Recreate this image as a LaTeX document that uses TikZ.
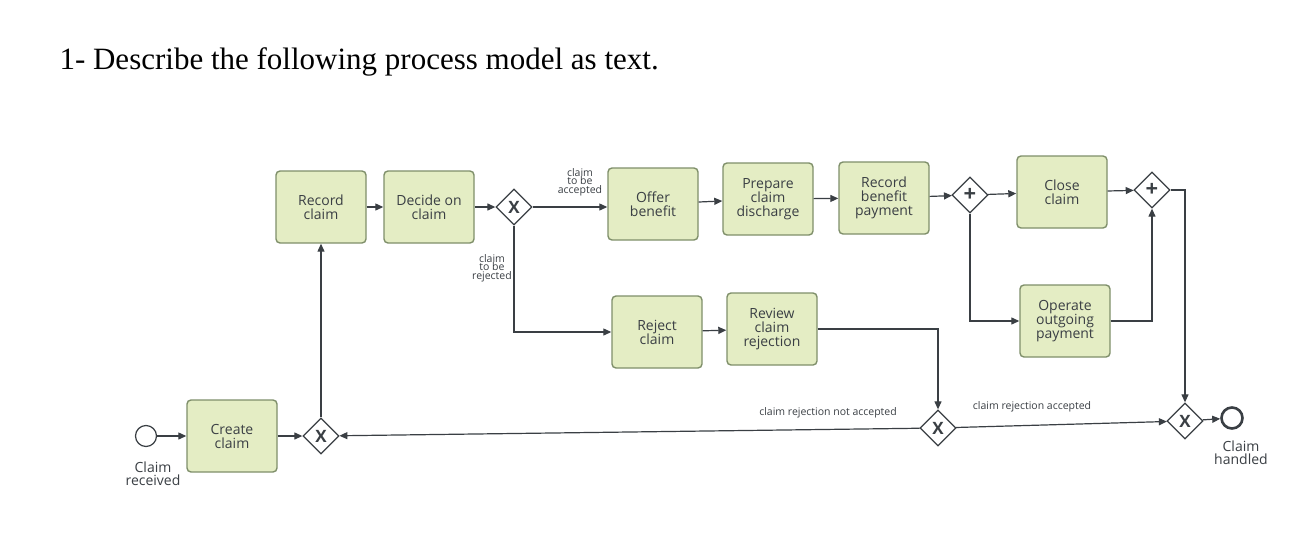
\documentclass[tikz,border=0pt]{standalone}
\usepackage{fontspec}
\setmainfont{Liberation Serif}
\newfontfamily\diag{Open Sans}
\usetikzlibrary{shapes.geometric,arrows.meta}
\definecolor{boxfill}{HTML}{E4EDC4}
\definecolor{boxline}{HTML}{7F8F6A}
\definecolor{ln}{HTML}{3A3F44}
\tikzset{
 task/.style={draw=boxline,fill=boxfill,rounded corners=4pt,line width=1.4pt,minimum width=90pt,minimum height=72pt,align=center,font=\diag\fontsize{14}{14}\selectfont,text=ln,inner sep=2pt},
 gw/.style={draw=ln,fill=white,diamond,line width=1.3pt,minimum width=36pt,minimum height=36pt,inner sep=0pt,font=\diag\bfseries\fontsize{17}{17}\selectfont,text=ln},
 ev/.style={draw=ln,fill=white,circle,minimum size=21pt,inner sep=0pt},
 flow/.style={draw=ln,line width=1.2pt,-{Triangle[length=8pt,width=7pt]}},
 lab/.style={font=\diag\fontsize{10.5}{8.5}\selectfont,text=ln,align=center},
 evlab/.style={font=\diag\fontsize{14}{13}\selectfont,text=ln,align=center}
}
\begin{document}
\begin{tikzpicture}[x=1pt,y=-1pt]
\fill[white] (0,0) rectangle (1310,557);
\useasboundingbox (0,0) rectangle (1310,557);
\node[anchor=west,font=\fontsize{31}{34}\selectfont] (title) at (56,62) {1- Describe the following process model as text.};
\node[ev,line width=1.2pt] (start) at (146,436) {};
\node[evlab] (startl) at (153,474) {Claim\\received};
\node[task] (create) at (232,436) {Create\\claim};
\node[gw] (x1) at (321,436) {X};
\node[task] (record) at (321,207) {Record\\claim};
\node[task] (decide) at (429,207) {Decide on\\claim};
\node[gw] (x2) at (514,207) {X};
\node[task] (offer) at (653,204) {Offer\\benefit};
\node[task] (prep) at (768,199) {Prepare\\claim\\discharge};
\node[task] (rbp) at (884,198) {Record\\benefit\\payment};
\node[gw,font=\diag\bfseries\fontsize{22}{22}\selectfont] (a1) at (970,195) {+};
\node[task] (close) at (1062,192) {Close\\claim};
\node[task] (oper) at (1065,321) {Operate\\outgoing\\payment};
\node[gw,font=\diag\bfseries\fontsize{22}{22}\selectfont] (a2) at (1152,190) {+};
\node[task] (reject) at (657,332) {Reject\\claim};
\node[task] (review) at (772,329) {Review\\claim\\rejection};
\node[gw] (x3) at (938,428) {X};
\node[gw] (x4) at (1185,421) {X};
\node[ev,line width=2.6pt] (end) at (1232,418) {};
\node[evlab] (endl) at (1241,453) {Claim\\handled};
\draw[flow] (start) -- (create);
\draw[flow] (create) -- (x1);
\draw[flow] (x1) -- (record);
\draw[flow] (record) -- (decide);
\draw[flow] (decide) -- (x2);
\draw[flow] (x2) -- (offer.west |- x2) ;
\node[lab] (l1) at (580,182) {claim\\to be\\accepted};
\draw[flow] (x2) |- (reject);
\node[lab] (l2) at (492,268) {claim\\to be\\rejected};
\draw[flow] (offer) -- (prep);
\draw[flow] (prep) -- (rbp);
\draw[flow] (rbp) -- (a1);
\draw[flow] (a1) -- (close);
\draw[flow] (a1) |- (oper);
\draw[flow] (close) -- (a2);
\draw[flow] (oper.east) -| (a2);
\draw[flow] (a2) -| (x4);
\draw[flow] (reject) -- (review);
\draw[flow] (review.east) -| (x3);
\draw[flow] (x3) -- (x1);
\node[lab,anchor=south] (l3) at (828,422) {claim rejection not accepted};
\draw[flow] (x3) -- (x4);
\node[lab,anchor=south] (l4) at (1032,416) {claim rejection accepted};
\draw[flow] (x4) -- (end);
\end{tikzpicture}
\end{document}
